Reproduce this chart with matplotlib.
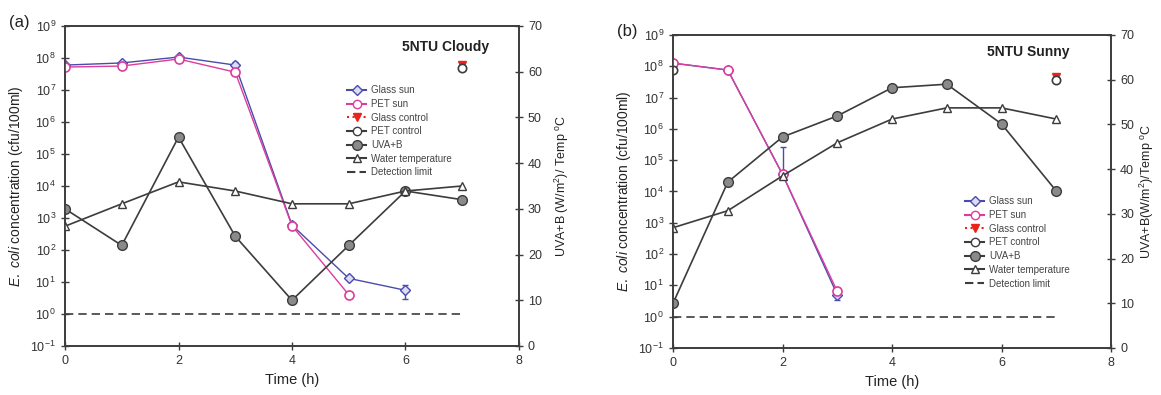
import numpy as np
import matplotlib
matplotlib.use('Agg')
import matplotlib.pyplot as plt
from matplotlib.lines import Line2D

plt.rcParams['font.family'] = ['Liberation Sans', 'DejaVu Sans']
plt.rcParams['mathtext.fontset'] = 'custom'
plt.rcParams['mathtext.rm'] = 'Liberation Sans'
plt.rcParams['mathtext.it'] = 'Liberation Sans:italic'

# ---- panel (a): 5NTU Cloudy ----
t_a = [0, 1, 2, 3, 4, 5, 6]
glass_sun_a = [6e7, 7e7, 1.07e8, 6e7, 6e2, 13, 5.5]
glass_err_lo_a = [0, 0, 0, 1.5e7, 0, 0, 2.6]
glass_err_hi_a = [0, 0, 0, 1.5e7, 0, 0, 2.8]
t_pet_a = [0, 1, 2, 3, 4, 5]
pet_sun_a = [5.2e7, 5.6e7, 9.3e7, 3.6e7, 5.7e2, 4]
ctrl_t = [7]
glass_ctrl_a = [6e7]
pet_ctrl_a = [5e7]
t_env = [0, 1, 2, 3, 4, 5, 6, 7]
uva_a = [30, 22, 45.7, 24, 10, 22, 33.9, 32]
temp_a = [26.2, 31.1, 35.9, 33.9, 31.1, 31.1, 33.9, 35]

# ---- panel (b): 5NTU Sunny ----
t_b = [0, 1, 2, 3]
glass_sun_b = [1.26e8, 7.6e7, 3.5e4, 5]
glass_err_lo_b = [0, 0, 0, 1.6]
glass_err_hi_b = [0, 0, 2.3e5, 1.0]
pet_sun_b = [1.26e8, 7.6e7, 3.5e4, 6.4]
glass_ctrl_b = [4.5e7]
pet_ctrl_t_b = [0, 7]
pet_ctrl_b = [7.6e7, 3.7e7]
uva_b = [10, 37.1, 47.2, 51.9, 58.2, 59.0, 50.1, 35.1]
temp_b = [26.9, 30.7, 38.5, 45.9, 51.2, 53.7, 53.7, 51.2]

det_t = [0, 7]
det_limit = [1, 1]

blue = '#4b4bab'
pink = '#dc3c9e'
dark = '#3c3c3c'
grey = '#8a8a8a'
red = '#e8231c'

fig = plt.figure(figsize=(11.61, 3.95), dpi=100)


def panel(rect, letter, title, title_xy, t_glass, glass, err_lo, err_hi, t_pet, pet,
          glass_ctrl, t_pctrl, pet_ctrl, uva, temp, ylab_right, rpad, leg_xy):
    ax = fig.add_axes(rect)
    ax.set_yscale('log')
    ax.set_xlim(0, 8)
    ax.set_ylim(1e-1, 1e9)
    ax.set_xticks([0, 2, 4, 6, 8])
    ax.set_yticks([10.0 ** k for k in range(-1, 10)])
    ax.minorticks_off()

    ax.plot(det_t, det_limit, '--', color=dark, lw=1.2, dashes=(5, 3))
    ax.errorbar(t_glass, glass, yerr=[err_lo, err_hi], color=blue, lw=1, marker='D',
                ms=5, mfc='#dcdcf4', mec=blue, mew=1, capsize=2.5, elinewidth=1,
                zorder=3)
    ax.plot(t_glass, glass, '.', color=blue, ms=3, zorder=3)
    ax.plot(t_pet, pet, '-o', color=pink, lw=1, ms=6.5, mfc='white', mec=pink, mew=1.2,
            zorder=4)
    ax.plot(ctrl_t, glass_ctrl, 'v', color=red, ms=6, zorder=4)
    ax.plot(t_pctrl, pet_ctrl, 'o', ms=6, mfc='white', mec=dark, mew=1.2, ls='none',
            zorder=5)

    ax2 = ax.twinx()
    ax2.set_ylim(0, 70)
    ax2.set_yticks(range(0, 80, 10))
    ax2.plot(t_env, uva, '-o', color=dark, lw=1.2, ms=7, mfc=grey, mec=dark, mew=1)
    ax2.plot(t_env, temp, '-^', color=dark, lw=1.2, ms=6, mfc='white', mec=dark, mew=1)

    for a in (ax, ax2):
        for s in a.spines.values():
            s.set_color(dark)
            s.set_linewidth(1.2)
        a.tick_params(direction='inout', length=6, width=1, colors=dark,
                      labelcolor='#333333', labelsize=9)

    ax.set_xlabel('Time (h)', fontsize=10.5, color='#222222')
    ax.set_ylabel(r'$\mathit{E.\ coli}$ concentration (cfu/100ml)', fontsize=10,
                  color='#222222', labelpad=4)
    ax2.set_ylabel(ylab_right, fontsize=9, color='#222222', labelpad=rpad)
    ax.text(title_xy[0], title_xy[1], title, transform=ax.transAxes, ha='right',
            va='center', fontsize=10, fontweight='bold', color='#222222')

    handles = [
        Line2D([], [], color=blue, marker='D', ms=5, mfc='#dcdcf4', mec=blue),
        Line2D([], [], color=pink, marker='o', ms=6, mfc='white', mec=pink),
        Line2D([], [], color=red, marker='v', ms=6, ls=':'),
        Line2D([], [], color=dark, marker='o', ms=6, mfc='white', mec=dark),
        Line2D([], [], color=dark, marker='o', ms=7, mfc=grey, mec=dark),
        Line2D([], [], color=dark, marker='^', ms=6, mfc='white', mec=dark),
        Line2D([], [], color=dark, ls='--', dashes=(4, 2)),
    ]
    labels = ['Glass sun', 'PET sun', 'Glass control', 'PET control', 'UVA+B',
              'Water temperature', 'Detection limit']
    leg = ax2.legend(handles, labels, loc='upper left', bbox_to_anchor=leg_xy,
                     frameon=False, fontsize=7, handlelength=2.0, handletextpad=0.5,
                     labelspacing=0.38, borderpad=0)
    for txt in leg.get_texts():
        txt.set_color('#444444')

    fig.text(rect[0] - 0.048, rect[1] + rect[3] + 0.01, letter, fontsize=12,
             color='#222222', va='center')
    return ax


panel([0.0560, 0.1241, 0.3910, 0.8101], '(a)', '5NTU Cloudy', (0.934, 0.935),
      t_a, glass_sun_a, glass_err_lo_a, glass_err_hi_a, t_pet_a, pet_sun_a,
      glass_ctrl_a, ctrl_t, pet_ctrl_a, uva_a, temp_a,
      r'UVA+B (W/m$^2$)/ Temp $\mathregular{^o}$C', 8, (0.61, 0.83))

panel([0.5797, 0.1190, 0.3773, 0.7924], '(b)', '5NTU Sunny', (0.906, 0.946),
      t_b, glass_sun_b, glass_err_lo_b, glass_err_hi_b, t_b, pet_sun_b,
      glass_ctrl_b, pet_ctrl_t_b, pet_ctrl_b, uva_b, temp_b,
      r'UVA+B(W/m$^2$)/Temp $\mathregular{^o}$C', 3, (0.655, 0.50))

fig.savefig('out.png', dpi=100)
